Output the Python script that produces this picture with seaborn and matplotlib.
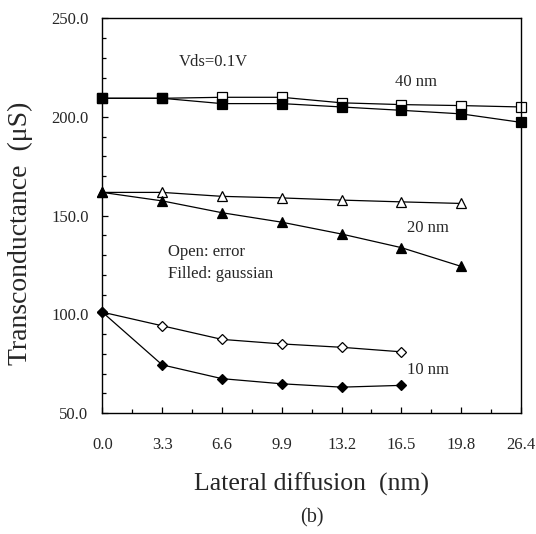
import pandas as pd
import matplotlib
matplotlib.use('Agg')
import matplotlib.pyplot as plt
import seaborn as sns
from matplotlib.ticker import MultipleLocator, FormatStrFormatter

# Lateral diffusion categories (equally spaced on the axis)
x_labels = ['0.0', '3.3', '6.6', '9.9', '13.2', '16.5', '19.8', '26.4']

# 40 nm
open_40 = [209.5, 209.5, 210.0, 210.0, 207.2, 206.3, 205.8, 205.1]
filled_40 = [209.5, 209.5, 206.8, 206.8, 205.1, 203.4, 201.6, 197.3]
# 20 nm
open_20 = [161.8, 161.8, 159.8, 159.0, 157.9, 157.0, 156.2]
filled_20 = [161.8, 157.5, 151.5, 146.7, 140.7, 133.8, 124.3]
# 10 nm
open_10 = [101.1, 94.2, 87.3, 85.0, 83.3, 81.0]
filled_10 = [101.1, 74.4, 67.4, 64.8, 63.1, 64.0]

sns.set_style('ticks')
plt.rcParams['font.family'] = ['Liberation Serif', 'DejaVu Serif']

fig = plt.figure(figsize=(5.36, 5.34), dpi=100)
ax = fig.add_axes([0.191, 0.2266, 0.781, 0.739])

series = [
    (open_40, 's', 'white', 6.5),
    (filled_40, 's', 'black', 6.5),
    (open_20, '^', 'white', 7),
    (filled_20, '^', 'black', 7),
    (open_10, 'D', 'white', 5),
    (filled_10, 'D', 'black', 5),
]
for vals, mk, face, ms in series:
    df = pd.DataFrame({'x': range(len(vals)), 'y': vals})
    sns.lineplot(data=df, x='x', y='y', ax=ax, color='black', linewidth=0.9,
                 marker=mk, markersize=ms, markerfacecolor=face,
                 markeredgecolor='black', markeredgewidth=0.9, clip_on=False)

ax.set_xlim(0, len(x_labels) - 1)
ax.set_ylim(50, 250)
ax.set_xticks(range(len(x_labels)))
ax.set_xticklabels(x_labels)
ax.xaxis.set_minor_locator(MultipleLocator(0.5))
ax.yaxis.set_major_locator(MultipleLocator(50))
ax.yaxis.set_minor_locator(MultipleLocator(10))
ax.yaxis.set_major_formatter(FormatStrFormatter('%.1f'))
ax.tick_params(which='both', direction='in', top=False, right=False,
               labelsize=12, color='black')
ax.tick_params(which='major', length=4, width=0.9)
ax.tick_params(axis='x', which='major', pad=17)
ax.tick_params(axis='y', which='major', pad=10)
ax.tick_params(which='minor', length=3, width=0.9)
for sp in ax.spines.values():
    sp.set_visible(True)
    sp.set_color('black')
    sp.set_linewidth(1.0)

ax.set_xlabel('Lateral diffusion  (nm)', fontsize=18.5)
ax.set_ylabel('Transconductance  (μS)', fontsize=20)
ax.xaxis.set_label_coords(0.5, -0.15)
ax.yaxis.set_label_coords(-0.166, 0.456)

ax.text(1.28, 228, 'Vds=0.1V', fontsize=12, va='center')
ax.text(4.9, 218, '40 nm', fontsize=12, va='center')
ax.text(5.1, 144, '20 nm', fontsize=12, va='center')
ax.text(1.1, 131.5, 'Open: error', fontsize=12, va='center')
ax.text(1.1, 120.6, 'Filled: gaussian', fontsize=12, va='center')
ax.text(5.1, 72, '10 nm', fontsize=12, va='center')

fig.text(0.582, 0.03, '(b)', fontsize=14.5, ha='center', va='center')

fig.savefig('out.png', dpi=100)
